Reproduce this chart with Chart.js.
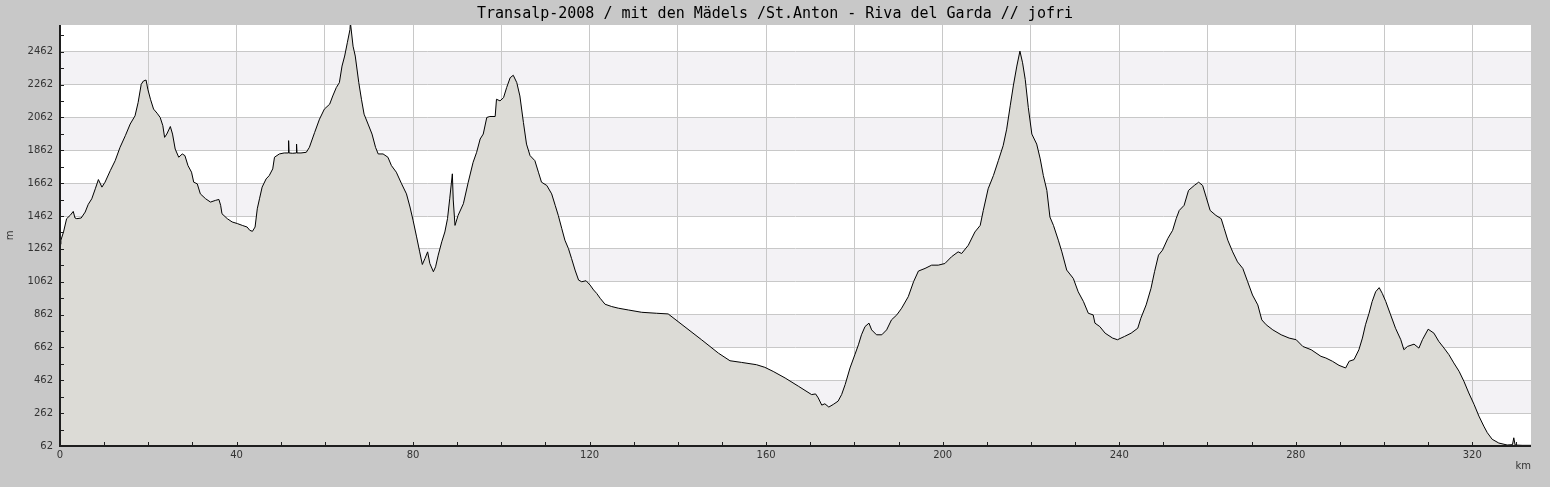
<!DOCTYPE html>
<html>
<head>
<meta charset="utf-8">
<script src="https://cdn.jsdelivr.net/npm/chart.js@4.4.1/dist/chart.umd.min.js"></script>
<style>
  html, body { margin: 0; padding: 0; background: #c8c8c8; }
  canvas { display: block; }
</style>
</head>
<body>
<canvas id="profile" width="1550" height="487"></canvas>
<script>
// distance along the route (km) and elevation (m)
var km = [
  0.0, 0.2, 0.8, 1.5, 2.3, 3.0, 3.4, 3.8, 4.8, 5.7, 6.4, 7.2, 8.0, 8.7, 9.5, 10.2,
  11.4, 12.5, 13.6, 14.8, 15.9, 17.0, 17.7, 18.4, 18.9, 19.5, 19.9, 20.5, 21.2, 22.0,
  22.7, 23.3, 23.7, 24.2, 25.0, 25.5, 26.1, 26.9, 27.7, 28.3, 29.0, 29.8, 30.3, 31.1,
  31.8, 33.0, 34.1, 35.2, 36.0, 36.4, 36.7, 37.9, 39.0, 40.2, 41.3, 42.4, 43.0, 43.6,
  44.2, 44.7, 45.2, 45.8, 46.7, 47.4, 48.2, 48.6, 49.7, 50.8, 51.7, 51.8, 51.9, 52.7,
  53.5, 53.6, 53.7, 54.6, 55.8, 56.5, 57.7, 58.8, 59.9, 61.1, 61.8, 62.6, 63.3, 63.9,
  64.5, 65.1, 65.7, 65.8, 66.4, 66.9, 67.7, 68.3, 68.9, 69.8, 70.7, 71.5, 72.1, 73.2,
  74.3, 75.1, 76.2, 77.4, 78.5, 79.3, 80.0, 80.8, 81.5, 82.1, 82.7, 83.3, 83.8, 84.6,
  85.1, 85.7, 86.5, 87.2, 87.8, 88.3, 88.9, 89.1, 89.5, 90.2, 91.4, 92.5, 93.6, 94.4,
  95.2, 95.9, 96.7, 97.4, 98.6, 98.9, 99.7, 100.5, 101.2, 102.0, 102.7, 103.5, 104.2,
  105.0, 105.7, 106.5, 107.6, 108.4, 109.1, 110.3, 111.4, 112.2, 112.9, 113.7, 114.4,
  115.2, 115.9, 116.7, 117.5, 118.2, 119.2, 120.1, 120.9, 121.6, 122.4, 123.5, 125.0,
  126.5, 128.8, 131.8, 135.2, 137.8, 145.4, 149.2, 151.8, 154.4, 157.8, 159.7, 161.6,
  164.3, 167.3, 170.3, 171.2, 171.8, 172.6, 173.3, 174.2, 175.2, 176.3, 177.1, 177.9,
  179.0, 180.1, 180.9, 181.6, 182.4, 183.3, 183.9, 185.0, 186.2, 187.3, 188.4, 189.6,
  190.7, 192.2, 193.4, 194.5, 196.0, 197.5, 199.0, 200.5, 202.0, 203.5, 204.3, 205.8,
  207.3, 208.5, 209.2, 210.3, 211.5, 212.6, 213.7, 214.5, 215.3, 216.0, 216.8, 217.5,
  218.1, 218.7, 219.4, 220.2, 221.3, 222.1, 222.8, 223.6, 224.3, 225.1, 226.2, 227.0,
  228.1, 229.6, 230.7, 231.9, 233.0, 234.1, 234.5, 235.6, 236.8, 238.5, 239.6, 241.2,
  242.7, 244.2, 244.9, 246.1, 247.2, 248.0, 248.9, 249.8, 251.0, 252.1, 252.9, 253.6,
  254.7, 255.7, 257.0, 258.0, 258.9, 259.7, 260.6, 261.9, 263.1, 263.8, 264.6, 265.7,
  266.8, 268.0, 269.1, 270.2, 271.4, 272.3, 273.3, 274.8, 276.7, 278.5, 280.1, 281.6,
  283.5, 285.7, 286.8, 288.3, 289.8, 291.3, 292.1, 293.2, 294.3, 295.1, 295.8, 296.6,
  297.3, 298.1, 298.9, 299.6, 300.4, 301.5, 302.6, 303.8, 304.5, 305.3, 306.8, 307.9,
  308.7, 310.0, 311.3, 312.4, 313.6, 314.7, 315.8, 317.0, 318.1, 319.2, 320.4, 321.5,
  322.6, 323.4, 324.5, 326.0, 327.9, 329.1, 329.4, 329.7, 331.3, 333.3
];
var elevation = [
  1290, 1315, 1365, 1446, 1466, 1490, 1450, 1446, 1450, 1486, 1533, 1567, 1628, 1684, 1638, 1668,
  1739, 1799, 1880, 1951, 2022, 2072, 2153, 2264, 2284, 2290, 2234, 2173, 2113, 2088,
  2062, 2012, 1941, 1961, 2007, 1961, 1870, 1820, 1840, 1830, 1769, 1729, 1668, 1658,
  1597, 1567, 1547, 1557, 1563, 1527, 1476, 1446, 1426, 1416, 1405, 1395, 1375, 1369,
  1395, 1506, 1567, 1638, 1688, 1708, 1749, 1820, 1840, 1846, 1846, 1921, 1846, 1844,
  1846, 1900, 1846, 1846, 1850, 1880, 1971, 2052, 2113, 2143, 2193, 2244, 2274, 2375,
  2436, 2517, 2597, 2640, 2496, 2436, 2274, 2173, 2082, 2022, 1961, 1880, 1840, 1840,
  1820, 1769, 1729, 1658, 1597, 1517, 1436, 1335, 1244, 1167, 1204, 1244, 1173, 1123,
  1153, 1224, 1305, 1365, 1446, 1567, 1719, 1560, 1405, 1466, 1537, 1668, 1789, 1850,
  1931, 1961, 2062, 2068, 2068, 2173, 2163, 2183, 2244, 2304, 2319, 2274, 2193,
  2032, 1900, 1830, 1799, 1729, 1668, 1648, 1597, 1527, 1466, 1385, 1315,
  1264, 1204, 1133, 1072, 1062, 1068, 1042, 1012, 991, 961, 925, 911,
  901, 890, 876, 870, 866, 708, 627, 581, 571, 557, 541, 516,
  476, 426, 375, 379, 355, 311, 319, 299, 315, 335, 375, 436,
  537, 618, 678, 739, 789, 810, 769, 739, 739, 769, 830, 860,
  901, 971, 1062, 1127, 1143, 1163, 1163, 1173, 1214, 1244, 1234, 1284,
  1365, 1405, 1496, 1628, 1709, 1799, 1890, 1991, 2133, 2254, 2375, 2466,
  2395, 2294, 2123, 1961, 1900, 1810, 1709, 1618, 1456, 1405, 1315, 1244,
  1133, 1082, 1001, 941, 870, 860, 810, 789, 749, 719, 709, 729,
  749, 779, 840, 921, 1022, 1123, 1224, 1254, 1325, 1375, 1446, 1496,
  1527, 1618, 1648, 1668, 1648, 1577, 1496, 1466, 1446, 1385, 1315, 1244,
  1183, 1143, 1062, 981, 921, 830, 800, 769, 739, 719, 709, 668,
  648, 608, 598, 578, 553, 537, 578, 588, 648, 719, 800, 870,
  941, 1001, 1026, 991, 941, 860, 779, 709, 648, 668, 682, 658,
  709, 773, 749, 699, 658, 618, 568, 517, 456, 385, 315, 244,
  183, 143, 103, 80, 68, 70, 112, 68, 66, 66
];

var xTicks = [0, 10, 20, 30, 40, 50, 60, 70, 80, 90, 100, 110, 120, 130, 140, 150, 160,
  170, 180, 190, 200, 210, 220, 230, 240, 250, 260, 270, 280, 290, 300, 310, 320, 330];
var yTicks = [62, 162, 262, 362, 462, 562, 662, 762, 862, 962, 1062, 1162, 1262, 1362,
  1462, 1562, 1662, 1762, 1862, 1962, 2062, 2162, 2262, 2362, 2462, 2562];

var points = [];
for (var i = 0; i < km.length; i++) {
    points.push({x: km[i], y: elevation[i]});
}

// background, alternating bands, axis lines and inside tick marks
var decor = {
    id: 'decor',
    beforeDraw: function(chart) {
        var ctx = chart.ctx, a = chart.chartArea, y = chart.scales.y;
        ctx.save();
        ctx.fillStyle = '#c8c8c8';
        ctx.fillRect(0, 0, chart.width, chart.height);
        ctx.fillStyle = '#ffffff';
        ctx.fillRect(a.left, a.top, a.right - a.left, a.bottom - a.top);
        ctx.fillStyle = '#f3f2f5';
        yTicks.forEach(function(v) {
            if ((v - 62) % 400 === 200) {
                var t = y.getPixelForValue(Math.min(v + 200, y.max));
                var b = y.getPixelForValue(v);
                ctx.fillRect(a.left, t, a.right - a.left, b - t);
            }
        });
        ctx.restore();
    },
    afterDatasetsDraw: function(chart) {
        var ctx = chart.ctx, a = chart.chartArea, x = chart.scales.x, y = chart.scales.y;
        ctx.save();
        ctx.strokeStyle = '#1e1e1e';
        ctx.lineWidth = 1;
        ctx.beginPath();
        xTicks.forEach(function(v) {
            var px = Math.round(x.getPixelForValue(v)) + 0.5;
            ctx.moveTo(px, a.bottom);
            ctx.lineTo(px, a.bottom - 4);
        });
        yTicks.forEach(function(v) {
            var py = Math.round(y.getPixelForValue(v)) + 0.5;
            ctx.moveTo(a.left, py);
            ctx.lineTo(a.left + 4, py);
        });
        ctx.stroke();
        ctx.lineWidth = 2;
        ctx.beginPath();
        ctx.moveTo(a.left, a.top);
        ctx.lineTo(a.left, a.bottom);
        ctx.lineTo(a.right, a.bottom);
        ctx.stroke();
        ctx.restore();
    }
};

var tickFont = {family: 'DejaVu Sans', size: 10};

new Chart(document.getElementById('profile'), {
    type: 'line',
    data: {
        datasets: [{
            data: points,
            borderColor: '#000000',
            borderWidth: 1,
            backgroundColor: '#dcdbd6',
            fill: 'start',
            pointRadius: 0,
            tension: 0
        }]
    },
    options: {
        responsive: false,
        animation: false,
        devicePixelRatio: 1,
        layout: {padding: {left: 19, right: 19, top: 0, bottom: 0}},
        plugins: {
            legend: {display: false},
            tooltip: {enabled: false},
            title: {
                display: true,
                text: 'Transalp-2008 / mit den Mädels /St.Anton - Riva del Garda // jofri',
                color: '#000000',
                font: {family: 'DejaVu Sans Mono', size: 15, weight: 'normal', lineHeight: 1.2},
                padding: {top: 5, bottom: 2}
            }
        },
        scales: {
            x: {
                type: 'linear',
                min: 0,
                max: 333.3,
                afterBuildTicks: function(scale) {
                    scale.ticks = xTicks.map(function(v) { return {value: v}; });
                },
                afterFit: function(scale) { scale.height = 41; },
                ticks: {
                    autoSkip: false,
                    maxRotation: 0,
                    padding: 3,
                    color: '#333333',
                    font: tickFont,
                    callback: function(v) { return v % 40 === 0 ? String(v) : ''; }
                },
                grid: {
                    drawTicks: false,
                    color: function(c) { return c.tick && c.tick.value % 20 === 0 ? '#c8c8c8' : 'rgba(0,0,0,0)'; }
                },
                border: {display: false},
                title: {
                    display: true,
                    text: 'km',
                    align: 'end',
                    color: '#333333',
                    font: tickFont,
                    padding: {top: 0, bottom: 15}
                }
            },
            y: {
                min: 62,
                max: 2625,
                afterBuildTicks: function(scale) {
                    scale.ticks = yTicks.map(function(v) { return {value: v}; });
                },
                afterFit: function(scale) { scale.width = 41; },
                ticks: {
                    autoSkip: false,
                    padding: 7,
                    color: '#333333',
                    font: tickFont,
                    callback: function(v) { return (v - 62) % 200 === 0 ? String(v) : ''; }
                },
                grid: {
                    drawTicks: false,
                    color: function(c) { return c.tick && (c.tick.value - 62) % 200 === 0 ? '#c8c8c8' : 'rgba(0,0,0,0)'; }
                },
                border: {display: false},
                title: {
                    display: true,
                    text: 'm',
                    color: '#333333',
                    font: tickFont,
                    padding: {top: -15, bottom: 0}
                }
            }
        }
    },
    plugins: [decor]
});
</script>
</body>
</html>
